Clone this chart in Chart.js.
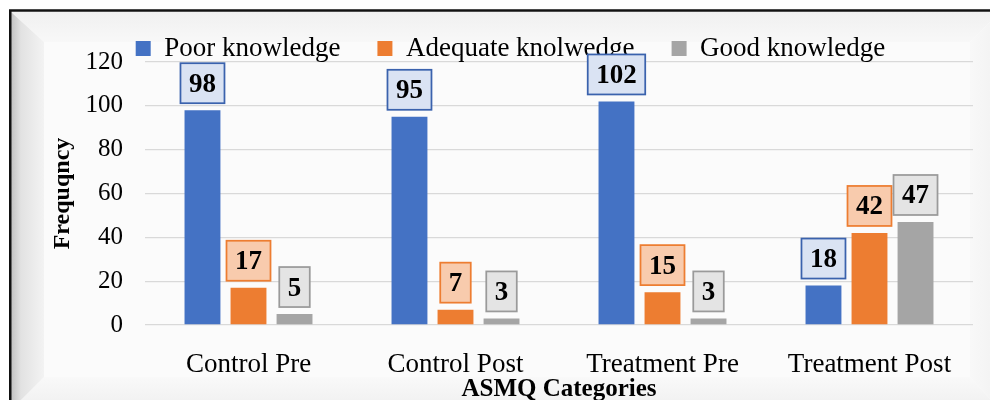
<!DOCTYPE html>
<html>
<head>
<meta charset="utf-8">
<script src="https://cdn.jsdelivr.net/npm/chart.js@4/dist/chart.umd.min.js"></script>
<style>
  html, body { margin: 0; padding: 0; width: 990px; height: 400px; overflow: hidden; background: #fff; }
  #wrap { position: absolute; left: 0; top: 0; width: 990px; height: 415px; }
</style>
</head>
<body>
<div id="wrap"><canvas id="chart"></canvas></div>
<script>
// Knowledge levels by ASMQ group
const categories = ['Control Pre', 'Control Post', 'Treatment Pre', 'Treatment Post'];
const seriesNames = ['Poor knowledge', 'Adequate knolwedge', 'Good knowledge'];
const poorKnowledge = [98, 95, 102, 18];
const adequateKnowledge = [17, 7, 15, 42];
const goodKnowledge = [5, 3, 3, 47];
const yTicks = [0, 20, 40, 60, 80, 100, 120];

const SERIF = "'Liberation Serif', 'Times New Roman', serif";
const barColors = ['#4472c4', '#ed7d31', '#a5a5a5'];
const labelFill = ['#dae3f3', '#f8cbad', '#e4e4e4'];
const labelStroke = ['#3a62ad', '#ed7d31', '#9a9a9a'];

// Bevelled frame behind the plot
const framePlugin = {
  id: 'frame',
  beforeDraw(chart) {
    const ctx = chart.ctx;
    const W = chart.width, H = chart.height;
    ctx.save();
    ctx.fillStyle = '#ffffff';
    ctx.fillRect(0, 0, W, H);
    const o = { l: 11, t: 12, r: 1000, b: 410 };
    const i = { l: 44, t: 42, r: 970, b: 377 };
    // inner panel
    ctx.fillStyle = '#fbfbfb';
    ctx.fillRect(o.l, o.t, o.r - o.l, o.b - o.t);
    // top band
    let g = ctx.createLinearGradient(0, o.t, 0, i.t);
    g.addColorStop(0, '#f0f0f0'); g.addColorStop(1, '#f8f8f8');
    ctx.fillStyle = g;
    ctx.beginPath(); ctx.moveTo(o.l, o.t); ctx.lineTo(o.r, o.t); ctx.lineTo(i.r, i.t); ctx.lineTo(i.l, i.t); ctx.closePath(); ctx.fill();
    // right band
    g = ctx.createLinearGradient(i.r, 0, o.r, 0);
    g.addColorStop(0, '#f8f8f8'); g.addColorStop(1, '#f2f2f2');
    ctx.fillStyle = g;
    ctx.beginPath(); ctx.moveTo(o.r, o.t); ctx.lineTo(o.r, o.b); ctx.lineTo(i.r, i.b); ctx.lineTo(i.r, i.t); ctx.closePath(); ctx.fill();
    // bottom band
    g = ctx.createLinearGradient(0, i.b, 0, o.b);
    g.addColorStop(0, '#f9f9f9'); g.addColorStop(1, '#efefef');
    ctx.fillStyle = g;
    ctx.beginPath(); ctx.moveTo(o.l, o.b); ctx.lineTo(i.l, i.b); ctx.lineTo(i.r, i.b); ctx.lineTo(o.r, o.b); ctx.closePath(); ctx.fill();
    // left band
    g = ctx.createLinearGradient(o.l, 0, i.l, 0);
    g.addColorStop(0, '#c2c2c2'); g.addColorStop(0.3, '#e2e2e2'); g.addColorStop(1, '#f3f3f3');
    ctx.fillStyle = g;
    ctx.beginPath(); ctx.moveTo(o.l, o.t); ctx.lineTo(i.l, i.t); ctx.lineTo(i.l, i.b); ctx.lineTo(o.l, o.b); ctx.closePath(); ctx.fill();
    // outer border
    ctx.strokeStyle = '#111';
    ctx.lineWidth = 2.5;
    ctx.beginPath(); ctx.moveTo(10.25, H + 5); ctx.lineTo(10.25, 10.5); ctx.lineTo(W + 5, 10.5); ctx.stroke();
    ctx.restore();
  }
};

// Boxed value labels above each bar
const valueBoxPlugin = {
  id: 'valueBoxes',
  afterDatasetsDraw(chart) {
    const ctx = chart.ctx;
    ctx.save();
    ctx.font = 'bold 27px ' + SERIF;
    ctx.textAlign = 'center';
    ctx.textBaseline = 'middle';
    chart.data.datasets.forEach((ds, di) => {
      const meta = chart.getDatasetMeta(di);
      meta.data.forEach((bar, idx) => {
        const txt = String(ds.data[idx]);
        const tw = ctx.measureText(txt).width;
        const w = tw + 17, h = 40;
        const x = bar.x - w / 2;
        const y = bar.y - 7 - h;
        ctx.fillStyle = labelFill[di];
        ctx.fillRect(x, y, w, h);
        ctx.strokeStyle = labelStroke[di];
        ctx.lineWidth = 1.75;
        ctx.strokeRect(x, y, w, h);
        ctx.fillStyle = '#000';
        ctx.fillText(txt, bar.x, y + h / 2 + 1.5);
      });
    });
    ctx.restore();
  }
};

const seriesData = [poorKnowledge, adequateKnowledge, goodKnowledge];

new Chart(document.getElementById('chart'), {
  type: 'bar',
  data: {
    labels: categories,
    datasets: seriesNames.map((name, k) => ({
      label: name,
      data: seriesData[k],
      backgroundColor: barColors[k],
      borderWidth: 0,
      categoryPercentage: 0.667,
      barPercentage: 0.78
    }))
  },
  options: {
    responsive: true,
    maintainAspectRatio: false,
    devicePixelRatio: 1,
    animation: false,
    layout: { padding: { top: -2, left: 48, right: 17, bottom: 0 } },
    plugins: {
      legend: {
        position: 'top',
        align: 'center',
        maxHeight: 64,
        labels: {
          boxWidth: 15,
          boxHeight: 15,
          padding: 37,
          color: '#000',
          font: { family: SERIF, size: 27 }
        }
      },
      tooltip: { enabled: false }
    },
    scales: {
      x: {
        grid: { display: false },
        border: { display: false },
        ticks: { color: '#000', padding: 16, font: { family: SERIF, size: 27 } },
        title: {
          display: true,
          text: 'ASMQ Categories',
          color: '#000',
          padding: { top: 0, bottom: 10 },
          font: { family: SERIF, size: 25, weight: 'bold' }
        },
        afterFit(scale) { scale.height = 90; }
      },
      y: {
        min: 0,
        max: 120,
        afterBuildTicks(scale) { scale.ticks = yTicks.map(v => ({ value: v })); },
        grid: { color: '#d9d9d9', lineWidth: 1.3, drawTicks: false },
        border: { display: false },
        ticks: { color: '#000', padding: 22, font: { family: SERIF, size: 25 } },
        title: {
          display: true,
          text: 'Frequqncy',
          color: '#000',
          padding: { top: 0, bottom: 0 },
          font: { family: SERIF, size: 24, weight: 'bold' }
        },
        afterFit(scale) { scale.width = 97; }
      }
    }
  },
  plugins: [framePlugin, valueBoxPlugin]
});
</script>
</body>
</html>
